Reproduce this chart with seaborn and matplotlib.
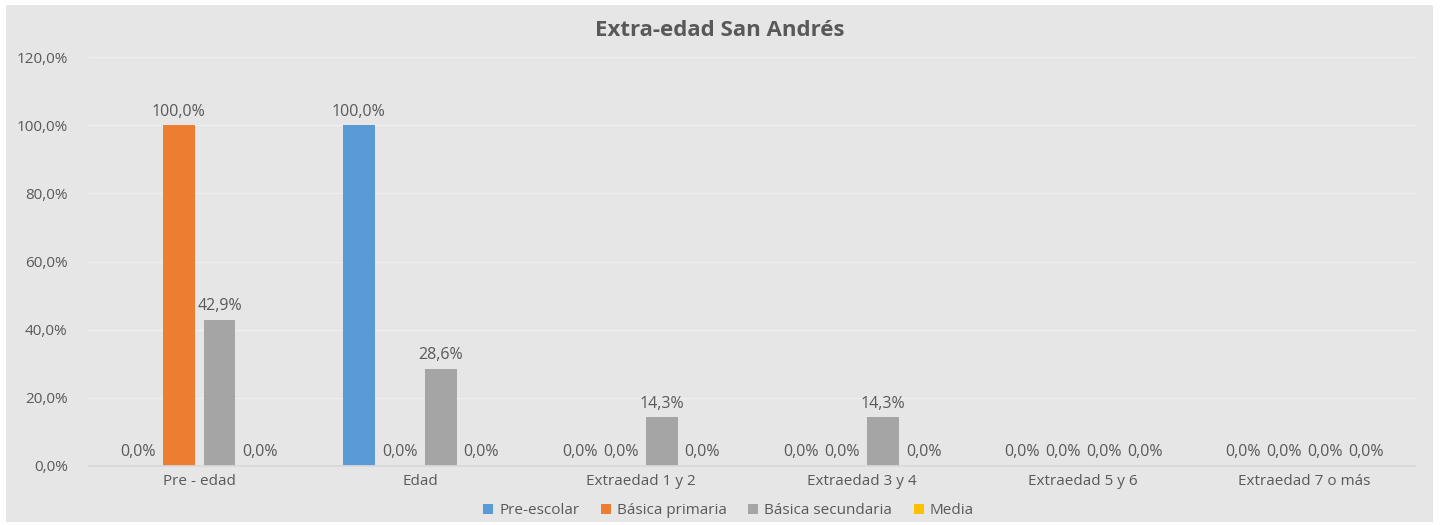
import pandas as pd
import numpy as np
import matplotlib
matplotlib.use('Agg')
import matplotlib.pyplot as plt
from matplotlib.patches import Rectangle
import seaborn as sns

# Datos del grafico
categorias = ['Pre - edad', 'Edad', 'Extraedad 1 y 2', 'Extraedad 3 y 4',
              'Extraedad 5 y 6', 'Extraedad 7 o más']
niveles = ['Pre-escolar', 'Básica primaria', 'Básica secundaria', 'Media']
pre_escolar = [0.0, 100.0, 0.0, 0.0, 0.0, 0.0]
basica_primaria = [100.0, 0.0, 0.0, 0.0, 0.0, 0.0]
basica_secundaria = [42.9, 28.6, 14.3, 14.3, 0.0, 0.0]
media = [0.0, 0.0, 0.0, 0.0, 0.0, 0.0]
colores = ['#5B9BD5', '#ED7D31', '#A5A5A5', '#FFC000']

fondo = '#E7E6E6'
texto = '#595959'

sns.set_theme(style='white')
plt.rcParams['font.family'] = ['Open Sans', 'DejaVu Sans']

df = pd.DataFrame({
    'Categoria': categorias * 4,
    'Nivel': np.repeat(niveles, len(categorias)),
    'Valor': pre_escolar + basica_primaria + basica_secundaria + media,
})

fig = plt.figure(figsize=(14.4, 5.25), dpi=100, facecolor='white')
fig.patches.append(Rectangle((0.004, 0.006), 0.991, 0.985, transform=fig.transFigure,
                             facecolor=fondo, edgecolor='none', zorder=-10))
ax = fig.add_axes([0.0615, 0.1124, 0.921, 0.779])
ax.set_facecolor(fondo)

sns.barplot(data=df, x='Categoria', y='Valor', hue='Nivel', order=categorias,
            hue_order=niveles, palette=colores, width=0.74, gap=0.22,
            saturation=1, linewidth=0, ax=ax, legend=True)

# Etiquetas de datos
for cont in ax.containers:
    for barra in cont:
        h = barra.get_height()
        ax.annotate(f'{h:.1f}%'.replace('.', ','),
                    (barra.get_x() + barra.get_width() / 2, h),
                    xytext=(0, 4), textcoords='offset points',
                    ha='center', va='bottom', fontsize=11.5, color=texto)

ax.set_ylim(0, 120)
ax.set_yticks(np.arange(0, 121, 20))
ax.set_yticklabels([f'{v:.1f}%'.replace('.', ',') for v in np.arange(0, 121, 20)])
ax.set_xlim(-0.5, len(categorias) - 0.5)
ax.yaxis.grid(True, color='#EFEFEF', linewidth=1)
ax.set_axisbelow(True)
for s in ax.spines.values():
    s.set_visible(False)
ax.spines['bottom'].set_visible(True)
ax.spines['bottom'].set_color('#D9D9D9')
ax.tick_params(axis='both', colors=texto, labelsize=11, length=0)
ax.tick_params(axis='y', pad=15)
ax.tick_params(axis='x', pad=6)
ax.set_xlabel('')
ax.set_ylabel('')

fig.text(0.5, 0.942, 'Extra-edad San Andrés', ha='center', va='center',
         fontsize=16, fontweight='bold', color=texto)

handles, labels = ax.get_legend_handles_labels()
ax.legend(handles, labels, loc='center', bbox_to_anchor=(0.506, 0.027),
          bbox_transform=fig.transFigure, ncol=4, frameon=False,
          fontsize=11, labelcolor=texto, handlelength=0.65, handleheight=0.65,
          handletextpad=0.4, columnspacing=1.4)

fig.savefig('out.png', dpi=100, facecolor='white')
